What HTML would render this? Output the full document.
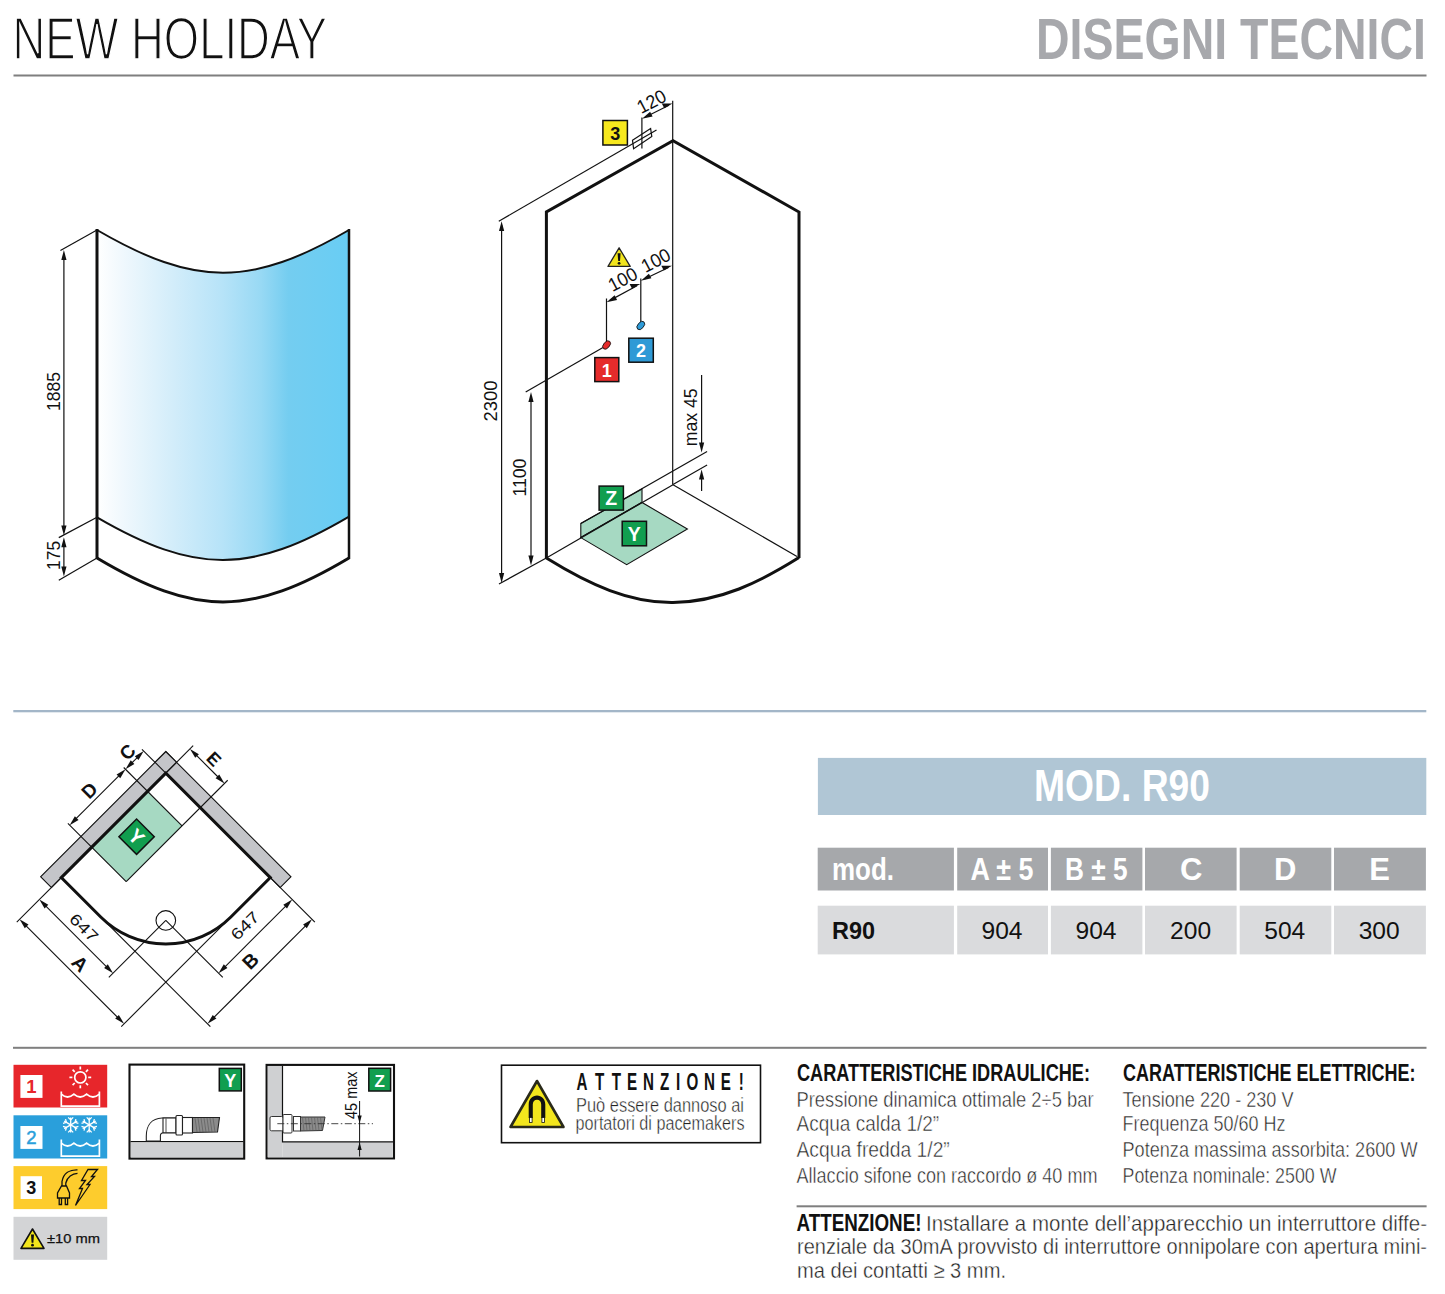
<!DOCTYPE html>
<html><head><meta charset="utf-8">
<style>
html,body{margin:0;padding:0;background:#fff;width:1445px;height:1294px;overflow:hidden}
svg{display:block;position:absolute;left:0;top:0}
text{font-family:"Liberation Sans",sans-serif}
.mono{font-family:"Liberation Mono",monospace}
</style></head><body>
<svg width="1445" height="1294" viewBox="0 0 1445 1294">
<defs>
<linearGradient id="glass" x1="0" y1="0" x2="1" y2="0">
<stop offset="0" stop-color="#ffffff"/>
<stop offset="0.1" stop-color="#f0f8fd"/>
<stop offset="0.3" stop-color="#d3edfa"/>
<stop offset="0.5" stop-color="#b6e3f8"/>
<stop offset="0.65" stop-color="#98d9f4"/>
<stop offset="0.76" stop-color="#74cdf0"/>
<stop offset="1" stop-color="#68cdf4"/>
</linearGradient>
</defs>
<!-- HEADER -->
<text x="12.5" y="58.8" font-size="59.6" textLength="314.5" lengthAdjust="spacingAndGlyphs" fill="#111" stroke="#fff" stroke-width="1.6">NEW HOLIDAY</text>
<text x="1036" y="58.5" font-size="57.4" font-weight="bold" textLength="390" lengthAdjust="spacingAndGlyphs" fill="#a7a8ac">DISEGNI TECNICI</text>
<rect x="13.5" y="74.5" width="1413" height="2" fill="#7f7f7f"/>
<rect x="13.3" y="710" width="1413" height="2.3" fill="#a3b6c8"/>
<rect x="13" y="1046.8" width="1413.5" height="2" fill="#7f7f7f"/>
<rect x="796.6" y="1205.3" width="630" height="2" fill="#7f7f7f"/>

<!-- TABLE -->
<rect x="817.9" y="757.9" width="608.4" height="57.1" fill="#b0c6d5"/>
<text x="1122" y="801.2" font-size="43.6" font-weight="bold" fill="#fff" text-anchor="middle" textLength="176" lengthAdjust="spacingAndGlyphs">MOD. R90</text>
<g fill="#a6a8ab">
<rect x="817.7" y="847.7" width="136.2" height="42.8"/>
<rect x="957.2" y="847.7" width="90.8" height="42.8"/>
<rect x="1050.9" y="847.7" width="91.5" height="42.8"/>
<rect x="1145" y="847.7" width="91.6" height="42.8"/>
<rect x="1239.7" y="847.7" width="91.6" height="42.8"/>
<rect x="1334" y="847.7" width="91.9" height="42.8"/>
</g>
<g fill="#dadbdd">
<rect x="817.7" y="905.7" width="136.2" height="48.7"/>
<rect x="957.2" y="905.7" width="90.8" height="48.7"/>
<rect x="1050.9" y="905.7" width="91.5" height="48.7"/>
<rect x="1145" y="905.7" width="91.6" height="48.7"/>
<rect x="1239.7" y="905.7" width="91.6" height="48.7"/>
<rect x="1334" y="905.7" width="91.9" height="48.7"/>
</g>
<g fill="#fff" font-weight="bold" font-size="31">
<text x="832" y="879.8" textLength="62" lengthAdjust="spacingAndGlyphs">mod.</text>
<text x="970.5" y="879.8" textLength="63" lengthAdjust="spacingAndGlyphs">A ± 5</text>
<text x="1065" y="879.8" textLength="62.5" lengthAdjust="spacingAndGlyphs">B ± 5</text>
<text x="1191.3" y="879.8" text-anchor="middle">C</text>
<text x="1285.3" y="879.8" text-anchor="middle">D</text>
<text x="1379.5" y="879.8" text-anchor="middle">E</text>
</g>
<text x="832" y="938.5" font-size="24.5" font-weight="bold" fill="#111" textLength="43" lengthAdjust="spacingAndGlyphs">R90</text>
<g fill="#111" font-size="24.5" text-anchor="middle">
<text x="1002" y="938.5" textLength="41" lengthAdjust="spacingAndGlyphs">904</text>
<text x="1096" y="938.5" textLength="41" lengthAdjust="spacingAndGlyphs">904</text>
<text x="1190.6" y="938.5" textLength="41" lengthAdjust="spacingAndGlyphs">200</text>
<text x="1284.8" y="938.5" textLength="41" lengthAdjust="spacingAndGlyphs">504</text>
<text x="1379.2" y="938.5" textLength="41" lengthAdjust="spacingAndGlyphs">300</text>
</g>

<!-- SPECS TEXT -->
<g fill="#111">
<text x="797" y="1081.1" font-size="23.3" font-weight="bold" textLength="293" lengthAdjust="spacingAndGlyphs">CARATTERISTICHE IDRAULICHE:</text>
<text x="1123" y="1081.1" font-size="23.3" font-weight="bold" textLength="292.5" lengthAdjust="spacingAndGlyphs">CARATTERISTICHE ELETTRICHE:</text>
</g>
<g fill="#222" font-size="22.3" stroke="#fff" stroke-width="0.5">
<text x="796.5" y="1107" textLength="297" lengthAdjust="spacingAndGlyphs">Pressione dinamica ottimale 2÷5 bar</text>
<text x="796.5" y="1131.4" textLength="142.7" lengthAdjust="spacingAndGlyphs">Acqua calda 1/2”</text>
<text x="796.5" y="1156.9" textLength="153.3" lengthAdjust="spacingAndGlyphs">Acqua fredda 1/2”</text>
<text x="796.5" y="1183" textLength="301" lengthAdjust="spacingAndGlyphs">Allaccio sifone con raccordo ø 40 mm</text>
<text x="1122.5" y="1107" textLength="171" lengthAdjust="spacingAndGlyphs">Tensione 220 - 230 V</text>
<text x="1122.5" y="1131.4" textLength="163" lengthAdjust="spacingAndGlyphs">Frequenza 50/60 Hz</text>
<text x="1122.5" y="1156.9" textLength="295" lengthAdjust="spacingAndGlyphs">Potenza massima assorbita: 2600 W</text>
<text x="1122.5" y="1183" textLength="214" lengthAdjust="spacingAndGlyphs">Potenza nominale: 2500 W</text>
</g>
<g fill="#222" font-size="22">
<text x="796.5" y="1230.8" font-weight="bold" font-size="23" fill="#111" textLength="125" lengthAdjust="spacingAndGlyphs">ATTENZIONE!</text>
<text x="926" y="1231" textLength="501" lengthAdjust="spacingAndGlyphs" stroke="#fff" stroke-width="0.4">Installare a monte dell’apparecchio un interruttore diffe-</text>
<text x="797" y="1254.3" textLength="630" lengthAdjust="spacingAndGlyphs" stroke="#fff" stroke-width="0.4">renziale da 30mA provvisto di interruttore onnipolare con apertura mini-</text>
<text x="797" y="1277.5" textLength="209" lengthAdjust="spacingAndGlyphs" stroke="#fff" stroke-width="0.4">ma dei contatti ≥ 3 mm.</text>
</g>


<!-- LEFT GLASS DRAWING -->
<g id="glass">
<path d="M97,230 C195.2,287 250.8,287 349,230 L349,516.6 C250.8,574.3 195.2,574.3 97,517.3 Z" fill="url(#glass)"/>
<path d="M97,230 C195.2,287 250.8,287 349,230" fill="none" stroke="#111" stroke-width="2"/>
<path d="M97,517.3 C195.2,574.3 250.8,574.3 349,516.6" fill="none" stroke="#111" stroke-width="2"/>
<path d="M97,558 C195.2,616.5 250.8,616.5 349,558" fill="none" stroke="#111" stroke-width="3"/>
<line x1="97" y1="229" x2="97" y2="559" stroke="#111" stroke-width="3"/>
<line x1="349" y1="229" x2="349" y2="559" stroke="#111" stroke-width="2.5"/>
<g stroke="#111" stroke-width="1.2" fill="none">
<line x1="60.4" y1="250.5" x2="97" y2="230"/>
<line x1="58.8" y1="537.6" x2="97" y2="517.3"/>
<line x1="58.8" y1="580.2" x2="97" y2="558"/>
<line x1="63.9" y1="255" x2="63.9" y2="530"/>
<line x1="63.9" y1="542" x2="63.9" y2="571"/>
</g>
<g fill="#111">
<path d="M63.9,250 L61.3,260 L66.5,260 Z"/>
<path d="M63.9,535.4 L61.3,525.4 L66.5,525.4 Z"/>
<path d="M63.9,537.2 L61.3,547.2 L66.5,547.2 Z"/>
<path d="M63.9,576.4 L61.3,566.4 L66.5,566.4 Z"/>
</g>
<text transform="translate(59.5,391.5) rotate(-90)" font-size="19" text-anchor="middle" textLength="39" lengthAdjust="spacingAndGlyphs" fill="#111">1885</text>
<text transform="translate(59.5,555.4) rotate(-90)" font-size="19" text-anchor="middle" textLength="29" lengthAdjust="spacingAndGlyphs" fill="#111">175</text>
</g>

<!-- ISOMETRIC DRAWING -->
<g id="iso">
<!-- Z shelf & Y floor -->
<path d="M580.8,523.6 L642,489 L642,502.2 L580.8,537.6 Z" fill="#a6d9c2" stroke="#111" stroke-width="1.1"/>
<path d="M580.8,537.6 L642,502.5 L687.4,529 L626.7,564.6 Z" fill="#a6d9c2" stroke="#111" stroke-width="1.1"/>
<g stroke="#111" stroke-width="1.2" fill="none">
<line x1="672.7" y1="100.7" x2="672.7" y2="484.7"/>
<line x1="546.3" y1="558" x2="673" y2="484.7"/>
<line x1="673" y1="484.7" x2="797" y2="556.5"/>
<line x1="580.8" y1="523.6" x2="707.1" y2="451.5"/>
<line x1="673" y1="484.6" x2="707.1" y2="464.9"/>
<line x1="498.8" y1="221.2" x2="656.5" y2="129.9"/>
<line x1="501.6" y1="225" x2="501.6" y2="579"/>
<line x1="499" y1="584" x2="546.3" y2="558"/>
<line x1="531" y1="396" x2="531" y2="561"/>
<line x1="525.7" y1="392" x2="603" y2="347.5"/>
<line x1="606.5" y1="298.5" x2="606.5" y2="342"/>
<line x1="640.8" y1="278.5" x2="640.8" y2="322"/>
<line x1="610" y1="300.4" x2="637" y2="285.8"/>
<line x1="644.5" y1="279" x2="668.5" y2="267.5"/>
<line x1="701.6" y1="375" x2="701.6" y2="447"/>
<line x1="701.6" y1="475" x2="701.6" y2="491"/>
<line x1="641.9" y1="117.6" x2="641.9" y2="148.5"/>
<line x1="645.5" y1="117" x2="669" y2="105.3"/>
<path d="M632.5,140.3 L650.6,128.5 L651.8,136.5 L633.6,148.7 Z"/>
</g>
<g fill="#111">
<path d="M501.6,221.2 L499,231 L504.2,231 Z"/>
<path d="M501.6,583 L499,573 L504.2,573 Z"/>
<path d="M531,392 L528.4,402 L533.6,402 Z"/>
<path d="M531,565.5 L528.4,555.5 L533.6,555.5 Z"/>
<path d="M701.6,452.5 L699,442.5 L704.2,442.5 Z"/>
<path d="M701.6,469.5 L699,479.5 L704.2,479.5 Z"/>
<path d="M606.5,302.3 L614.6,295.3 L617.1,299.9 Z"/>
<path d="M640.3,284 L632.1,288.7 L629.6,284.1 Z"/>
<path d="M640.8,280.7 L648.9,273.7 L651.4,278.3 Z"/>
<path d="M672,265.7 L663.8,270.4 L661.3,265.8 Z"/>
<path d="M642,118.8 L650.1,111.8 L652.6,116.4 Z"/>
<path d="M672.5,103.5 L664.3,108.2 L661.8,103.6 Z"/>
</g>
<g stroke="#111" stroke-width="3" fill="none" stroke-linejoin="miter">
<path d="M546.4,558.5 L546.4,212 L673,140.7 L799,212 L799,558"/>
<path d="M546.4,558 C590,585 630,603 673,602.5 C720,602 760,582 799,557.6"/>
</g>
<!-- ellipses -->
<ellipse cx="606.6" cy="345" rx="4.8" ry="3" transform="rotate(-50 606.6 345)" fill="#e52b2b" stroke="#111" stroke-width="0.8"/>
<ellipse cx="640.8" cy="325.5" rx="4.8" ry="3" transform="rotate(-50 640.8 325.5)" fill="#2e9bd8" stroke="#111" stroke-width="0.8"/>
<!-- labels -->
<rect x="602.9" y="120.5" width="24.5" height="24.5" fill="#f7e81e" stroke="#111" stroke-width="1.5"/>
<text x="615.2" y="139.6" font-size="18" font-weight="bold" text-anchor="middle" fill="#111">3</text>
<rect x="594.8" y="357.6" width="24" height="24" fill="#e52b2b" stroke="#111" stroke-width="1.5"/>
<text x="606.8" y="376.6" font-size="18" font-weight="bold" text-anchor="middle" fill="#fff">1</text>
<rect x="628.8" y="338.2" width="24.5" height="24" fill="#2f9ad6" stroke="#111" stroke-width="1.5"/>
<text x="641" y="357.2" font-size="18" font-weight="bold" text-anchor="middle" fill="#fff">2</text>
<rect x="599.1" y="486.1" width="24.3" height="24" fill="#119e4f" stroke="#111" stroke-width="1.5"/>
<text x="611.2" y="505.4" font-size="19.5" font-weight="bold" text-anchor="middle" fill="#fff">Z</text>
<rect x="622.2" y="521.3" width="24.3" height="24.5" fill="#119e4f" stroke="#111" stroke-width="1.5"/>
<text x="634.3" y="540.7" font-size="19.5" font-weight="bold" text-anchor="middle" fill="#fff">Y</text>
<!-- warning triangle -->
<path d="M619.1,247.8 L630.2,266.4 L608,266.4 Z" fill="#f2e51c" stroke="#222" stroke-width="1.3" stroke-linejoin="round"/>
<path d="M617.6,253.3 L620.6,253.3 L620,261 L618.2,261 Z" fill="#111"/>
<circle cx="619.1" cy="263.3" r="1.4" fill="#111"/>
<!-- texts -->
<g fill="#111" font-size="19">
<text transform="translate(496.5,401) rotate(-90)" text-anchor="middle" textLength="41" lengthAdjust="spacingAndGlyphs">2300</text>
<text transform="translate(525.5,477.6) rotate(-90)" text-anchor="middle" textLength="38" lengthAdjust="spacingAndGlyphs">1100</text>
<text transform="translate(697,417.3) rotate(-90)" text-anchor="middle" textLength="58" lengthAdjust="spacingAndGlyphs">max 45</text>
<text transform="translate(651.8,102) rotate(-28)" text-anchor="middle" dy="6" textLength="30" lengthAdjust="spacingAndGlyphs">120</text>
<text transform="translate(622.9,279.9) rotate(-28)" text-anchor="middle" dy="6" textLength="30" lengthAdjust="spacingAndGlyphs">100</text>
<text transform="translate(656,260.8) rotate(-28)" text-anchor="middle" dy="6" textLength="30" lengthAdjust="spacingAndGlyphs">100</text>
</g>
</g>

<!-- PLAN VIEW -->
<g id="plan" transform="translate(165.8,751.6) rotate(45)">
<rect x="15" y="41" width="49" height="79" fill="#a6d9c2"/>
<rect x="0" y="0" width="177" height="15.2" fill="#c4c5c9" stroke="#111" stroke-width="1.1"/>
<rect x="0" y="0" width="15.2" height="177" fill="#c4c5c9" stroke="#111" stroke-width="1.1"/>
<g stroke="#111" stroke-width="1.1" fill="none">
<line x1="-18.5" y1="15.2" x2="15.2" y2="15.2"/>
<line x1="15.2" y1="-23.5" x2="15.2" y2="15.2"/>
<line x1="-18.5" y1="41" x2="64" y2="41"/>
<line x1="-18.5" y1="120" x2="64" y2="120"/>
<line x1="64" y1="-23.5" x2="64" y2="120"/>
<line x1="15.2" y1="163" x2="15.2" y2="226"/>
<line x1="163" y1="15.2" x2="226" y2="15.2"/>
<line x1="163" y1="80" x2="163" y2="226"/>
<line x1="80" y1="163" x2="226" y2="163"/>
<line x1="119.4" y1="119.4" x2="119.4" y2="200"/>
<line x1="119.4" y1="119.4" x2="200" y2="119.4"/>
<circle cx="119.4" cy="119.4" r="9.8"/>
<!-- dims -->
<line x1="-16" y1="23" x2="-16" y2="33"/>
<line x1="-16" y1="49" x2="-16" y2="112"/>
<line x1="23" y1="-19" x2="56" y2="-19"/>
<line x1="23" y1="222" x2="155" y2="222"/>
<line x1="23" y1="194" x2="111.4" y2="194"/>
<line x1="222" y1="23" x2="222" y2="155"/>
<line x1="194" y1="23" x2="194" y2="111.4"/>
</g>
<g fill="#111">
<path d="M-16,15.2 L-18.6,25.2 L-13.4,25.2 Z"/><path d="M-16,41 L-18.6,31 L-13.4,31 Z"/>
<path d="M-16,41 L-18.6,51 L-13.4,51 Z"/><path d="M-16,120 L-18.6,110 L-13.4,110 Z"/>
<path d="M15.2,-19 L25.2,-21.6 L25.2,-16.4 Z"/><path d="M64,-19 L54,-21.6 L54,-16.4 Z"/>
<path d="M15.2,222 L25.2,219.4 L25.2,224.6 Z"/><path d="M163,222 L153,219.4 L153,224.6 Z"/>
<path d="M15.2,194 L25.2,191.4 L25.2,196.6 Z"/><path d="M119.4,194 L109.4,191.4 L109.4,196.6 Z"/>
<path d="M222,15.2 L219.4,25.2 L224.6,25.2 Z"/><path d="M222,163 L219.4,153 L224.6,153 Z"/>
<path d="M194,15.2 L191.4,25.2 L196.6,25.2 Z"/><path d="M194,119.4 L191.4,109.4 L196.6,109.4 Z"/>
</g>
<path d="M15.2,15.2 L15.2,163 L71,163 A92,92 0 0 0 163,71 L163,15.2 Z" fill="none" stroke="#111" stroke-width="3" stroke-linejoin="miter"/>
<rect x="27" y="68.3" width="25" height="25" fill="#119e4f" stroke="#111" stroke-width="1.5"/>
<text x="39.5" y="88" font-size="20" font-weight="bold" text-anchor="middle" fill="#fff">Y</text>
<g fill="#111">
<text x="66.7" y="188" font-size="16" text-anchor="middle" textLength="33" lengthAdjust="spacingAndGlyphs">647</text>
<text x="89.4" y="217.5" font-size="19.5" font-weight="bold" text-anchor="middle">A</text>
<text x="39.3" y="-22.6" font-size="18" font-weight="bold" text-anchor="middle">E</text>
<text transform="translate(178.7,67.1) rotate(-90)" y="6" font-size="16" text-anchor="middle" textLength="33" lengthAdjust="spacingAndGlyphs">647</text>
<text transform="translate(207.7,88.2) rotate(-90)" y="7" font-size="19.5" font-weight="bold" text-anchor="middle">B</text>
<text transform="translate(-27.2,27.4) rotate(-90)" y="6.8" font-size="19" font-weight="bold" text-anchor="middle">C</text>
<text transform="translate(-26.7,81.5) rotate(-90)" y="6.8" font-size="19" font-weight="bold" text-anchor="middle">D</text>
</g>
</g>

<!-- LEGEND -->
<g id="legend">
<rect x="13.5" y="1064.8" width="93.7" height="42.7" fill="#e7262b"/>
<rect x="20.4" y="1075" width="22.1" height="22.9" fill="#fff"/>
<text x="31.5" y="1093.2" font-size="18.5" font-weight="bold" text-anchor="middle" fill="#e7262b">1</text>
<g stroke="#fff" stroke-width="1.7" fill="none" stroke-linecap="butt">
<circle cx="80.3" cy="1077.4" r="5.6"/>
<line x1="80.3" y1="1066.5" x2="80.3" y2="1069.5"/><line x1="80.3" y1="1085.3" x2="80.3" y2="1088.3"/>
<line x1="69.4" y1="1077.4" x2="72.4" y2="1077.4"/><line x1="88.2" y1="1077.4" x2="91.2" y2="1077.4"/>
<line x1="72.6" y1="1069.7" x2="74.7" y2="1071.8"/><line x1="85.9" y1="1083" x2="88" y2="1085.1"/>
<line x1="88" y1="1069.7" x2="85.9" y2="1071.8"/><line x1="74.7" y1="1083" x2="72.6" y2="1085.1"/>
<path d="M61.3,1091.5 L61.3,1106.2 L99.4,1106.2 L99.4,1091.5"/>
<path d="M61.3,1094.2 Q67.5,1099.8 73.9,1094.2 Q80.2,1099.8 86.6,1094.2 Q92.9,1099.8 99.4,1094.2"/>
</g>
<rect x="13.5" y="1115.3" width="93.7" height="43.2" fill="#2a9fdb"/>
<rect x="20.4" y="1126" width="22.1" height="22.9" fill="#fff"/>
<text x="31.5" y="1144.2" font-size="18.5" text-anchor="middle" fill="#2a9fdb" stroke="#2a9fdb" stroke-width="0.5">2</text>
<g stroke="#fff" stroke-width="1.7" fill="none">
<path d="M61.3,1139.5 L61.3,1156.2 L99.4,1156.2 L99.4,1139.5"/>
<path d="M61.3,1143.2 Q67.5,1148.8 73.9,1143.2 Q80.2,1148.8 86.6,1143.2 Q92.9,1148.8 99.4,1143.2"/>
</g>
<g stroke="#fff" stroke-width="1.3" fill="none">
<g transform="translate(70.7,1124.9)"><line x1="0" y1="-7.5" x2="0" y2="7.5"/><line x1="-6.5" y1="-3.75" x2="6.5" y2="3.75"/><line x1="-6.5" y1="3.75" x2="6.5" y2="-3.75"/>
<path d="M-2.5,-7.5 L0,-5 L2.5,-7.5 M-2.5,7.5 L0,5 L2.5,7.5 M-7.7,-1.5 L-4.3,-2.5 L-5.2,-5.8 M7.7,1.5 L4.3,2.5 L5.2,5.8 M-7.7,1.5 L-4.3,2.5 L-5.2,5.8 M7.7,-1.5 L4.3,-2.5 L5.2,-5.8"/></g>
<g transform="translate(89.2,1124.9)"><line x1="0" y1="-7.5" x2="0" y2="7.5"/><line x1="-6.5" y1="-3.75" x2="6.5" y2="3.75"/><line x1="-6.5" y1="3.75" x2="6.5" y2="-3.75"/>
<path d="M-2.5,-7.5 L0,-5 L2.5,-7.5 M-2.5,7.5 L0,5 L2.5,7.5 M-7.7,-1.5 L-4.3,-2.5 L-5.2,-5.8 M7.7,1.5 L4.3,2.5 L5.2,5.8 M-7.7,1.5 L-4.3,2.5 L-5.2,5.8 M7.7,-1.5 L4.3,-2.5 L5.2,-5.8"/></g>
</g>
<rect x="13.5" y="1166.1" width="93.7" height="43" fill="#fdcc2d"/>
<rect x="20.6" y="1176.2" width="21.4" height="22.8" fill="#fff"/>
<text x="31.3" y="1194" font-size="18" font-weight="bold" text-anchor="middle" fill="#111">3</text>
<g stroke="#111" stroke-width="1.3" fill="none">
<path d="M77.5,1169.8 C70,1169.5 63.5,1173 62,1181.5 L62,1186"/>
<path d="M77.5,1173.3 C72.5,1173.5 67,1177 65.8,1183 L65.8,1186"/>
<path d="M61.5,1186 L66.5,1186 L69.5,1193 L69.5,1198 L57.5,1198 L57.5,1193 Z"/>
<path d="M59.2,1198 L59.2,1204.5 L61.5,1204.5 L61.5,1198 M65.3,1198 L65.3,1204.5 L67.6,1204.5 L67.6,1198"/>
<path d="M88,1169.5 L97.5,1169.5 L91.5,1176.5 L94.5,1176.5 L87,1184.5 L90,1184.5 L75.5,1205.5 L82.5,1188.5 L79.5,1188.5 L85.5,1180.5 L81.5,1180.5 Z" stroke-linejoin="miter"/>
</g>
<rect x="13.5" y="1216.8" width="93.7" height="43" fill="#d3d4d6"/>
<path d="M32.5,1229 L44,1248.4 L21,1248.4 Z" fill="#f2e51c" stroke="#111" stroke-width="1.6" stroke-linejoin="round"/>
<path d="M31,1234.5 L34,1234.5 L33.4,1242.8 L31.6,1242.8 Z" fill="#111"/>
<circle cx="32.5" cy="1245.2" r="1.4" fill="#111"/>
<text x="47" y="1242.8" font-size="13.5" fill="#111" stroke="#111" stroke-width="0.25" textLength="53" lengthAdjust="spacingAndGlyphs">±10 mm</text>
</g>

<!-- Y BOX -->
<g id="ybox">
<rect x="129.5" y="1064.6" width="114.7" height="94" fill="#fff" stroke="#111" stroke-width="2.1"/>
<rect x="131" y="1143" width="112" height="14.2" fill="#cfd0d2"/>
<line x1="130.5" y1="1141.6" x2="243.5" y2="1141.6" stroke="#111" stroke-width="1.4"/>
<rect x="219.3" y="1068.4" width="22" height="22.5" fill="#119e4f" stroke="#111" stroke-width="1.5"/>
<text x="230.3" y="1086.8" font-size="18" font-weight="bold" text-anchor="middle" fill="#fff">Y</text>
<g stroke="#222" stroke-width="1.1" fill="#fff">
<path d="M146.3,1141 L146.3,1136 C146.3,1125 152,1118.5 162,1118 L176,1118 L176,1132.8 L163.5,1132.8 C161.5,1132.8 160.4,1134 160.4,1136 L160.4,1141 Z"/>
<rect x="163" y="1118" width="13" height="14.8"/>
<rect x="176" y="1115.5" width="6.5" height="19.5" rx="1"/>
<rect x="182.5" y="1117.5" width="10" height="15.5"/>
<path d="M192.5,1117.5 L219.5,1117.5 L217.5,1132 L192.5,1132.5 Z" fill="#8b8b8b"/>
</g>
<g stroke="#555" stroke-width="0.6">
<path d="M195,1118 L197,1132 M198,1118 L200,1132 M201,1118 L203,1132 M204,1118 L206,1132 M207,1118 L209,1132 M210,1118 L212,1132 M213,1118 L215,1132"/>
</g>
<line x1="166" y1="1118.5" x2="166" y2="1132.5" stroke="#222" stroke-width="0.8"/>
</g>
<!-- Z BOX -->
<g id="zbox">
<rect x="266.6" y="1064.9" width="127.4" height="93.5" fill="#fff" stroke="#111" stroke-width="2.1"/>
<rect x="267.8" y="1066" width="14.5" height="91.3" fill="#cfd0d2"/>
<rect x="282.3" y="1142.2" width="110.5" height="15.1" fill="#cfd0d2"/>
<path d="M282.5,1066 L282.5,1141.8 L393,1141.8" fill="none" stroke="#111" stroke-width="1.2"/>
<rect x="368.8" y="1068.3" width="21.8" height="22.7" fill="#119e4f" stroke="#111" stroke-width="1.5"/>
<text x="379.7" y="1086.5" font-size="17" font-weight="bold" text-anchor="middle" fill="#fff">Z</text>
<g stroke="#333" stroke-width="1" fill="#fff">
<rect x="270" y="1116.5" width="13" height="14.3" rx="1.5"/>
<rect x="283" y="1114.5" width="9" height="18.5" rx="1"/>
<rect x="293.5" y="1116.5" width="7" height="14.5"/>
<path d="M300.5,1117 L325,1117 L322.5,1130.5 L300.5,1131 Z" fill="#8b8b8b"/>
</g>
<g stroke="#555" stroke-width="0.55">
<path d="M302.5,1117.5 L304,1130.5 M305.5,1117.5 L307,1130.5 M308.5,1117.5 L310,1130.5 M311.5,1117.5 L313,1130.5 M314.5,1117.5 L316,1130.5 M317.5,1117.5 L319,1130.5 M320.5,1117.5 L322,1130.5"/>
</g>
<line x1="277.3" y1="1123.7" x2="373" y2="1123.7" stroke="#333" stroke-width="0.9" stroke-dasharray="7,2.5,1.5,2.5"/>
<line x1="359.6" y1="1101" x2="359.6" y2="1156.5" stroke="#111" stroke-width="1"/>
<path d="M359.6,1123.3 L357.5,1115.5 L361.7,1115.5 Z" fill="#111"/>
<path d="M359.6,1142.2 L357.5,1150 L361.7,1150 Z" fill="#111"/>
<text transform="translate(357,1095.2) rotate(-90)" font-size="17" text-anchor="middle" textLength="47.5" lengthAdjust="spacingAndGlyphs" fill="#111">45 max</text>
</g>
<!-- ATTENZIONE BOX -->
<g id="attbox">
<rect x="501.5" y="1065.2" width="259" height="77.5" fill="#fff" stroke="#111" stroke-width="1.6"/>
<path d="M537,1081 L563.5,1127 L510.5,1127 Z" fill="#f3e61d" stroke="#2a2a1a" stroke-width="2.6" stroke-linejoin="round"/>
<path d="M528.7,1118 L528.7,1104.5 C528.7,1099 532.5,1095.5 537,1095.5 C541.5,1095.5 545.3,1099 545.3,1104.5 L545.3,1118 L541.2,1118 L541.2,1104.5 C541.2,1101.5 539.5,1099.7 537,1099.7 C534.5,1099.7 532.8,1101.5 532.8,1104.5 L532.8,1118 Z" fill="#111"/>
<rect x="529.5" y="1117.5" width="2.6" height="5" fill="#fff" stroke="#111" stroke-width="0.8"/>
<rect x="541.9" y="1117.5" width="2.6" height="5" fill="#fff" stroke="#111" stroke-width="0.8"/>
<g transform="translate(0,1090.2) scale(0.66,1)"><text x="881.7 908.5 933.8 957.6 982.4 1007.0 1027.3 1049.1 1074.8 1099.8 1123.2" y="0" font-size="23" font-weight="bold" fill="#111" text-anchor="middle">ATTENZIONE!</text></g>
<g fill="#222" font-size="19.5" stroke="#fff" stroke-width="0.4">
<text x="576" y="1112.1" textLength="168" lengthAdjust="spacingAndGlyphs">Può essere dannoso ai</text>
<text x="575.5" y="1130.2" textLength="169" lengthAdjust="spacingAndGlyphs">portatori di pacemakers</text>
</g>
</g>
<!-- DRAWINGS PLACEHOLDER -->
</svg>
</body></html>
